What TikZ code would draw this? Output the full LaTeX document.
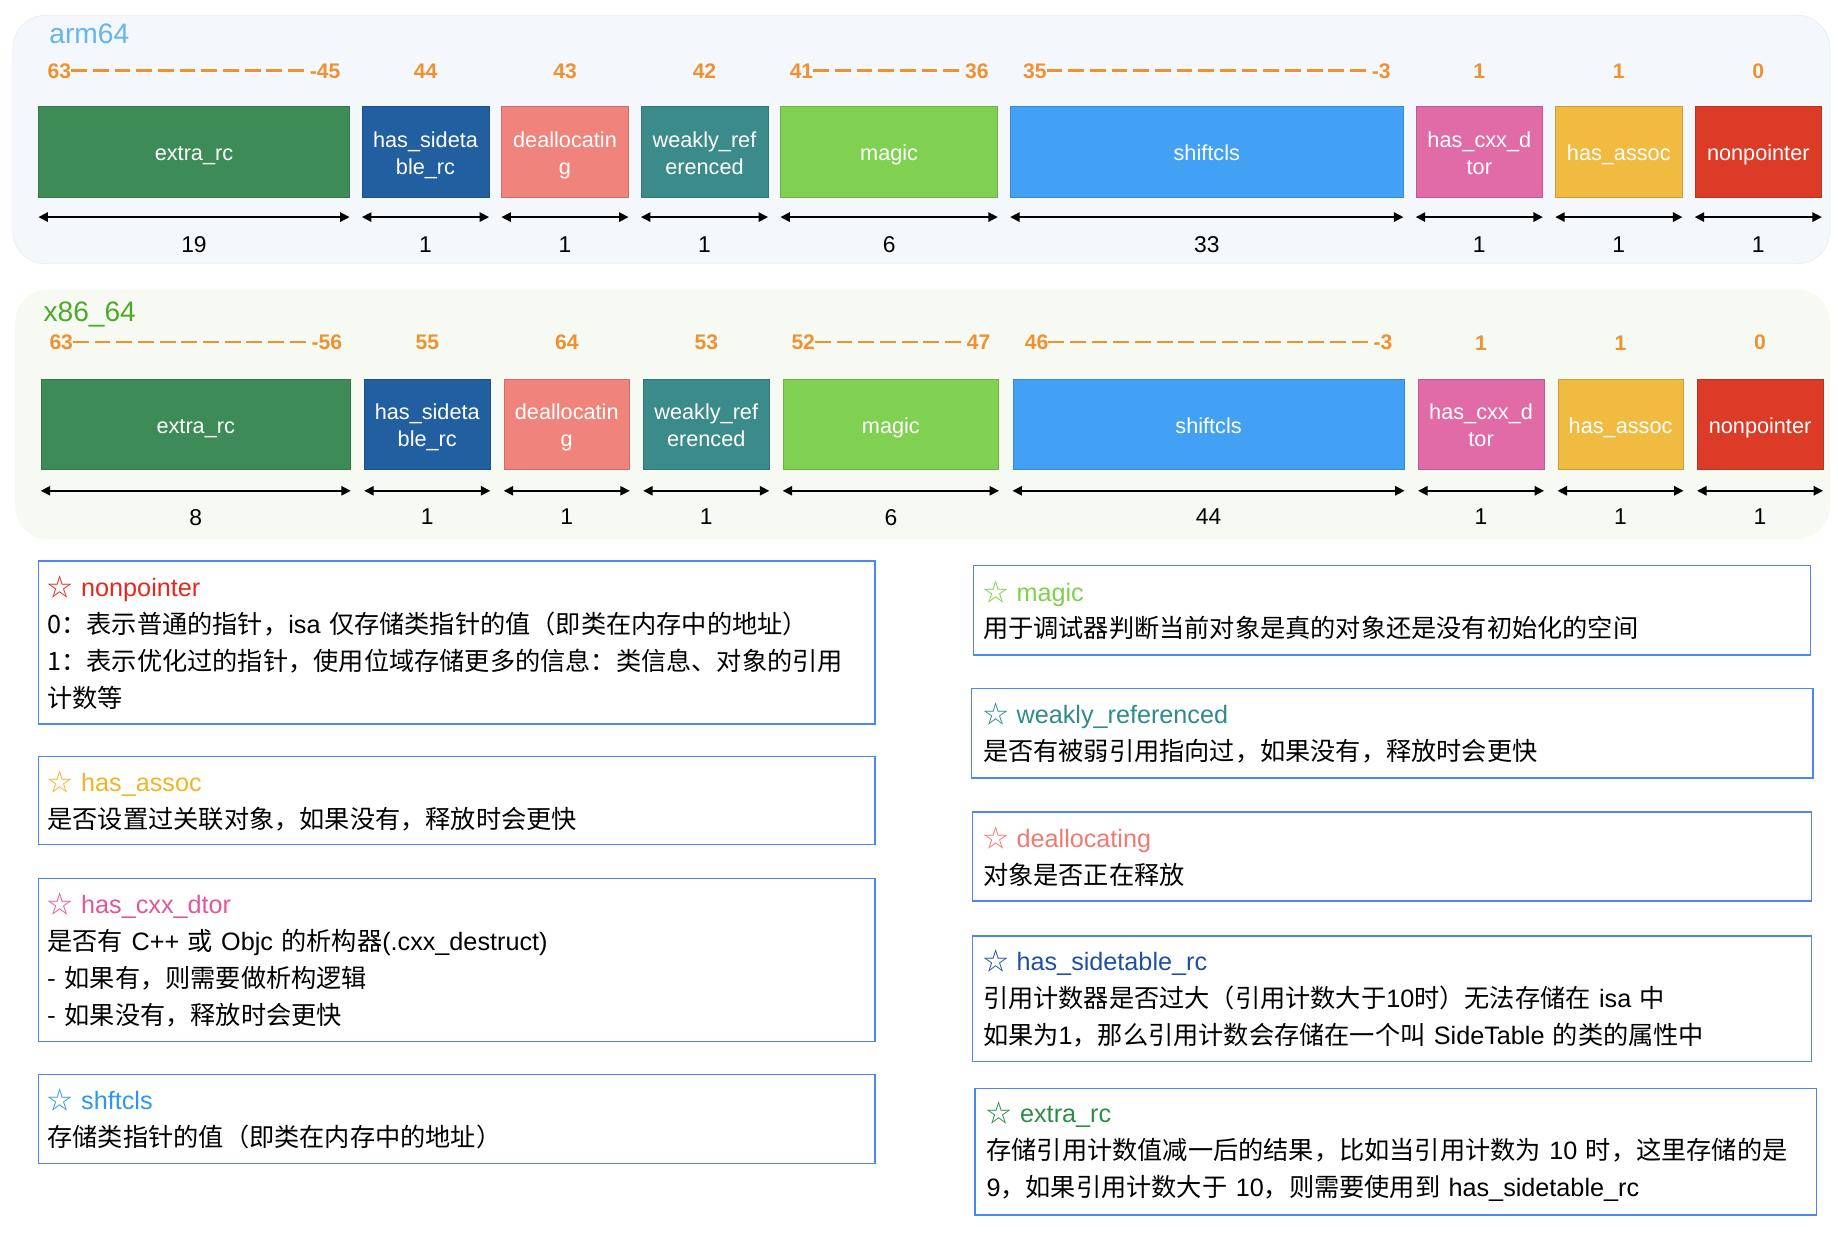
\documentclass[tikz,border=0pt]{standalone}
\usepackage{fontspec}
\setmainfont{Liberation Sans}
\newfontfamily\cjk{Noto Sans CJK SC}
\newfontfamily\lat{Liberation Sans}
\usetikzlibrary{positioning,arrows.meta}

\definecolor{armbg}{HTML}{F4F8FC}
\definecolor{armline}{HTML}{E3E8EE}
\definecolor{x86bg}{HTML}{F6FAF3}
\definecolor{armtitle}{HTML}{62B4F2}
\definecolor{x86title}{HTML}{4DAA28}
\definecolor{bitorange}{HTML}{EF9130}
\definecolor{cextra}{HTML}{3D8B57}
\definecolor{cside}{HTML}{215FA0}
\definecolor{cdealloc}{HTML}{F0837B}
\definecolor{cweak}{HTML}{3B8B8B}
\definecolor{cmagic}{HTML}{80D151}
\definecolor{cshift}{HTML}{42A1F5}
\definecolor{ccxx}{HTML}{E06BA6}
\definecolor{cassoc}{HTML}{F0BB40}
\definecolor{cnonptr}{HTML}{DB3B27}
\definecolor{noteblue}{HTML}{4C86F2}
\definecolor{hnonptr}{HTML}{E8261C}
\definecolor{hassoc}{HTML}{F0B429}
\definecolor{hcxx}{HTML}{E0569E}
\definecolor{hshift}{HTML}{2F96F0}
\definecolor{hmagic}{HTML}{7ED04A}
\definecolor{hweak}{HTML}{2E8B8B}
\definecolor{hdealloc}{HTML}{F07A70}
\definecolor{hside}{HTML}{1F4FA0}
\definecolor{hextra}{HTML}{2E8B46}

\newcommand\bitgap[1]{\foreach \k in {1,...,#1}{\rule[0.32em]{13.5pt}{2pt}\hspace{5pt}}}
\newcommand\head[2]{\textcolor{#1}{☆ {\lat #2}}}

\tikzset{
  field/.style={draw=#1!85!black, fill=#1, text=white, minimum height=77pt,
    inner sep=0pt, align=center, font=\fontsize{18.5}{23}\selectfont},
  oneline/.style={text height=15pt, text depth=0pt},
  twoline/.style={text height=38pt, text depth=0pt},
  bits/.style={text=bitorange, inner sep=0pt, font=\bfseries\fontsize{18}{20}\selectfont},
  dim/.style={{Triangle[length=8pt,width=8pt]}-{Triangle[length=8pt,width=8pt]}, line width=1.3pt},
  num/.style={inner sep=0pt, font=\fontsize{19.5}{22}\selectfont},
  note/.style={draw=noteblue, line width=1.2pt, anchor=north west, inner xsep=8pt,
    inner ysep=0pt, text width=698pt, align=left, font=\cjk\fontsize{21.5}{31.5}\selectfont},
}

\begin{document}
\begin{tikzpicture}[x=1pt,y=-1pt]
\useasboundingbox (0,0) rectangle (1568,1060);
% arm64
\draw[armline, fill=armbg, rounded corners=28pt] (11,13) rectangle (1561,225);
\node[anchor=base west, inner sep=0pt, text=armtitle, font=\fontsize{24}{26}\selectfont] (arm) at (42,37) {arm64};
\node[field=cextra, oneline, minimum width=265pt] (a1) at (165.5,129.5) {extra\_rc};
\node[field=cside, twoline, minimum width=108pt] (a2) at (363,129.5) {has\_sideta\\ble\_rc};
\node[field=cdealloc, twoline, minimum width=108pt] (a3) at (482,129.5) {deallocatin\\g};
\node[field=cweak, twoline, minimum width=108pt] (a4) at (601,129.5) {weakly\_ref\\erenced};
\node[field=cmagic, oneline, minimum width=185pt] (a5) at (758.5,129.5) {magic};
\node[field=cshift, oneline, minimum width=335pt] (a6) at (1029.5,129.5) {shiftcls};
\node[field=ccxx, twoline, minimum width=108pt] (a7) at (1262,129.5) {has\_cxx\_d\\tor};
\node[field=cassoc, oneline, minimum width=108pt] (a8) at (1381,129.5) {has\_assoc};
\node[field=cnonptr, oneline, minimum width=108pt] (a9) at (1500,129.5) {nonpointer};
\node[bits, above=23.5pt of a1] (ta1) {63\bitgap{11}-45};
\node[bits, above=23.5pt of a2] (ta2) {44};
\node[bits, above=23.5pt of a3] (ta3) {43};
\node[bits, above=23.5pt of a4] (ta4) {42};
\node[bits, above=23.5pt of a5] (ta5) {41\bitgap{7}36};
\node[bits, above=23.5pt of a6] (ta6) {35\bitgap{15}-3};
\node[bits, above=23.5pt of a7] (ta7) {1};
\node[bits, above=23.5pt of a8] (ta8) {1};
\node[bits, above=23.5pt of a9] (ta9) {0};
\draw[dim] ([yshift=-17pt]a1.south west) -- ([yshift=-17pt]a1.south east) node[num, midway, below=16pt] (na1) {19};
\draw[dim] ([yshift=-17pt]a2.south west) -- ([yshift=-17pt]a2.south east) node[num, midway, below=16pt] (na2) {1};
\draw[dim] ([yshift=-17pt]a3.south west) -- ([yshift=-17pt]a3.south east) node[num, midway, below=16pt] (na3) {1};
\draw[dim] ([yshift=-17pt]a4.south west) -- ([yshift=-17pt]a4.south east) node[num, midway, below=16pt] (na4) {1};
\draw[dim] ([yshift=-17pt]a5.south west) -- ([yshift=-17pt]a5.south east) node[num, midway, below=16pt] (na5) {6};
\draw[dim] ([yshift=-17pt]a6.south west) -- ([yshift=-17pt]a6.south east) node[num, midway, below=16pt] (na6) {33};
\draw[dim] ([yshift=-17pt]a7.south west) -- ([yshift=-17pt]a7.south east) node[num, midway, below=16pt] (na7) {1};
\draw[dim] ([yshift=-17pt]a8.south west) -- ([yshift=-17pt]a8.south east) node[num, midway, below=16pt] (na8) {1};
\draw[dim] ([yshift=-17pt]a9.south west) -- ([yshift=-17pt]a9.south east) node[num, midway, below=16pt] (na9) {1};
% x86_64
\fill[x86bg, rounded corners=28pt] (13,247) rectangle (1561,460);
\node[anchor=base west, inner sep=0pt, text=x86title, font=\fontsize{24}{26}\selectfont] (x86) at (37,274) {x86\_64};
\node[field=cextra, oneline, minimum width=264pt] (b1) at (167,362) {extra\_rc};
\node[field=cside, twoline, minimum width=107pt] (b2) at (364.5,362) {has\_sideta\\ble\_rc};
\node[field=cdealloc, twoline, minimum width=107pt] (b3) at (483.5,362) {deallocatin\\g};
\node[field=cweak, twoline, minimum width=107pt] (b4) at (602.5,362) {weakly\_ref\\erenced};
\node[field=cmagic, oneline, minimum width=184pt] (b5) at (760,362) {magic};
\node[field=cshift, oneline, minimum width=334pt] (b6) at (1031,362) {shiftcls};
\node[field=ccxx, twoline, minimum width=107pt] (b7) at (1263.5,362) {has\_cxx\_d\\tor};
\node[field=cassoc, oneline, minimum width=107pt] (b8) at (1382.5,362) {has\_assoc};
\node[field=cnonptr, oneline, minimum width=107pt] (b9) at (1501.5,362) {nonpointer};
\node[bits, above=24.5pt of b1] (tb1) {63\bitgap{11}-56};
\node[bits, above=24.5pt of b2] (tb2) {55};
\node[bits, above=24.5pt of b3] (tb3) {64};
\node[bits, above=24.5pt of b4] (tb4) {53};
\node[bits, above=24.5pt of b5] (tb5) {52\bitgap{7}47};
\node[bits, above=24.5pt of b6] (tb6) {46\bitgap{15}-3};
\node[bits, above=24.5pt of b7] (tb7) {1};
\node[bits, above=24.5pt of b8] (tb8) {1};
\node[bits, above=24.5pt of b9] (tb9) {0};
\draw[dim] ([yshift=-18pt]b1.south west) -- ([yshift=-18pt]b1.south east) node[num, midway, below=15pt] (nb1) {8};
\draw[dim] ([yshift=-18pt]b2.south west) -- ([yshift=-18pt]b2.south east) node[num, midway, below=15pt] (nb2) {1};
\draw[dim] ([yshift=-18pt]b3.south west) -- ([yshift=-18pt]b3.south east) node[num, midway, below=15pt] (nb3) {1};
\draw[dim] ([yshift=-18pt]b4.south west) -- ([yshift=-18pt]b4.south east) node[num, midway, below=15pt] (nb4) {1};
\draw[dim] ([yshift=-18pt]b5.south west) -- ([yshift=-18pt]b5.south east) node[num, midway, below=15pt] (nb5) {6};
\draw[dim] ([yshift=-18pt]b6.south west) -- ([yshift=-18pt]b6.south east) node[num, midway, below=15pt] (nb6) {44};
\draw[dim] ([yshift=-18pt]b7.south west) -- ([yshift=-18pt]b7.south east) node[num, midway, below=15pt] (nb7) {1};
\draw[dim] ([yshift=-18pt]b8.south west) -- ([yshift=-18pt]b8.south east) node[num, midway, below=15pt] (nb8) {1};
\draw[dim] ([yshift=-18pt]b9.south west) -- ([yshift=-18pt]b9.south east) node[num, midway, below=15pt] (nb9) {1};
% descriptions, left
\node[note, minimum width=714pt, minimum height=139pt] (dnonptr) at (32,478)
  {\head{hnonptr}{nonpointer}\\0：表示普通的指针，{\lat isa} 仅存储类指针的值（即类在内存中的地址）\\1：表示优化过的指针，使用位域存储更多的信息：类信息、对象的引用\\计数等};
\node[note, minimum width=714pt, minimum height=75pt] (dassoc) at (32,645)
  {\head{hassoc}{has\_assoc}\\是否设置过关联对象，如果没有，释放时会更快};
\node[note, minimum width=714pt, minimum height=139pt] (dcxx) at (32,749)
  {\head{hcxx}{has\_cxx\_dtor}\\是否有 {\lat C++} 或 {\lat Objc} 的析构器{\lat (.cxx\_destruct)}\\- 如果有，则需要做析构逻辑\\- 如果没有，释放时会更快};
\node[note, minimum width=714pt, minimum height=76pt] (dshift) at (32,916)
  {\head{hshift}{shftcls}\\存储类指针的值（即类在内存中的地址）};
% descriptions, right
\node[note, minimum width=714pt, minimum height=76pt] (dmagic) at (830,482)
  {\head{hmagic}{magic}\\用于调试器判断当前对象是真的对象还是没有初始化的空间};
\node[note, minimum width=718pt, minimum height=76pt] (dweak) at (828,587)
  {\head{hweak}{weakly\_referenced}\\是否有被弱引用指向过，如果没有，释放时会更快};
\node[note, minimum width=716pt, minimum height=76pt] (ddealloc) at (829,692)
  {\head{hdealloc}{deallocating}\\对象是否正在释放};
\node[note, minimum width=716pt, minimum height=107pt] (dside) at (829,798)
  {\head{hside}{has\_sidetable\_rc}\\引用计数器是否过大（引用计数大于{\lat 10}时）无法存储在 {\lat isa} 中\\如果为{\lat 1}，那么引用计数会存储在一个叫 {\lat SideTable} 的类的属性中};
\node[note, minimum width=718pt, minimum height=108pt] (dextra) at (831,928)
  {\head{hextra}{extra\_rc}\\存储引用计数值减一后的结果，比如当引用计数为 {\lat 10} 时，这里存储的是\\{\lat 9}，如果引用计数大于 {\lat 10}，则需要使用到 {\lat has\_sidetable\_rc}};
\end{tikzpicture}
\end{document}
